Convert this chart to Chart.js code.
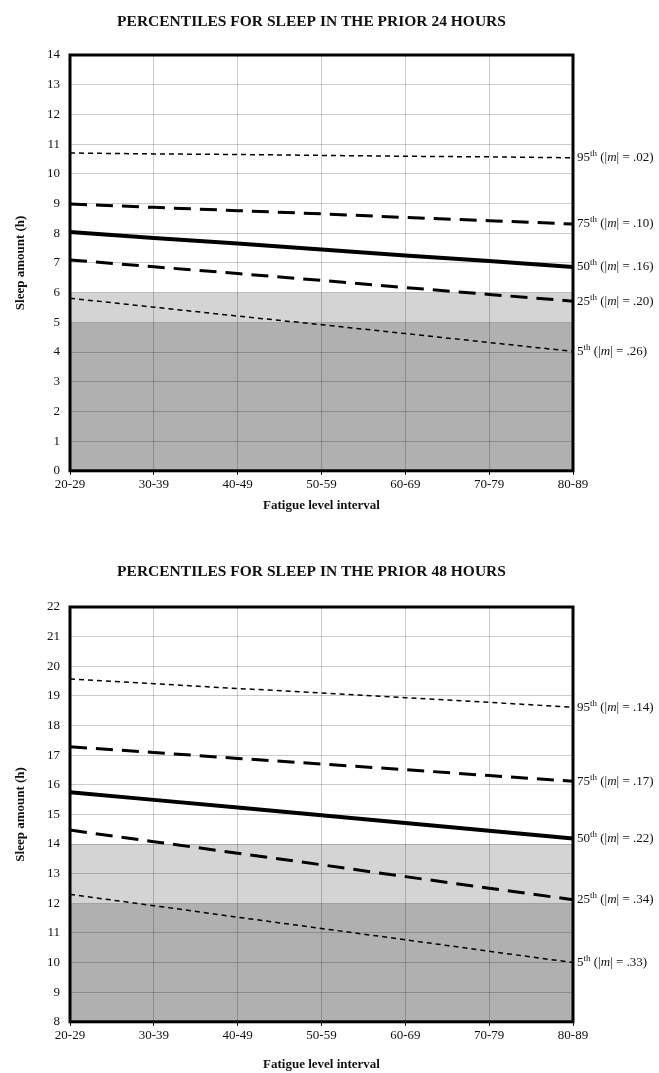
<!DOCTYPE html>
<html lang="en">
<head>
  <meta charset="UTF-8">
  <title>Percentiles for sleep</title>
  <script src="https://cdn.jsdelivr.net/npm/chart.js"></script>
  <style>
    body {
      margin: 0;
      padding: 0;
      background: #fff;
      font-family: 'Liberation Serif', 'Times New Roman', serif;
    }
    canvas { display: block; }
  </style>
</head>
<body>
  <canvas id="chart24" width="659" height="530"></canvas>
  <canvas id="chart48" width="659" height="543"></canvas>
  <script>
    const fatigueIntervals = ['20-29', '30-39', '40-49', '50-59', '60-69', '70-79', '80-89'];
    const percentileNames = ['95', '75', '50', '25', '5'];

    // prior 24 hours
    const p95_24 = [10.70, 10.67, 10.65, 10.62, 10.59, 10.57, 10.54];
    const p75_24 = [8.98, 8.87, 8.76, 8.65, 8.53, 8.42, 8.31];
    const p50_24 = [8.04, 7.84, 7.65, 7.45, 7.25, 7.06, 6.86];
    const p25_24 = [7.10, 6.87, 6.64, 6.41, 6.17, 5.94, 5.71];
    const p5_24 = [5.81, 5.51, 5.21, 4.92, 4.62, 4.32, 4.02];
    const slopes_24 = ['.02', '.10', '.16', '.20', '.26'];
    const bands_24 = [[0, 5], [5, 6]];

    // prior 48 hours
    const p95_48 = [19.57, 19.41, 19.25, 19.10, 18.94, 18.78, 18.62];
    const p75_48 = [17.28, 17.09, 16.89, 16.70, 16.51, 16.31, 16.12];
    const p50_48 = [15.75, 15.49, 15.23, 14.97, 14.71, 14.45, 14.19];
    const p25_48 = [14.47, 14.08, 13.69, 13.30, 12.90, 12.51, 12.12];
    const p5_48 = [12.30, 11.92, 11.53, 11.15, 10.77, 10.38, 10.00];
    const slopes_48 = ['.14', '.17', '.22', '.34', '.33'];
    const bands_48 = [[8, 12], [12, 14]];

    const SERIF = "'Liberation Serif', 'Times New Roman', serif";
    const bandColors = ['#b0b0b0', '#d4d4d4'];

    // styles for 95, 75, 50, 25, 5
    const lineStyles = [
      { borderWidth: 1.5, borderDash: [5, 4] },
      { borderWidth: 3, borderDash: [17, 9] },
      { borderWidth: 4, borderDash: [] },
      { borderWidth: 3, borderDash: [17, 9] },
      { borderWidth: 1.5, borderDash: [5, 4] }
    ];

    const bandsPlugin = {
      id: 'bands',
      beforeDraw(chart, args, opts) {
        const { ctx, chartArea, scales: { y } } = chart;
        ctx.save();
        opts.ranges.forEach((r, i) => {
          const top = y.getPixelForValue(r[1]);
          const bottom = y.getPixelForValue(r[0]);
          ctx.fillStyle = bandColors[i];
          ctx.fillRect(chartArea.left, top, chartArea.right - chartArea.left, bottom - top);
        });
        ctx.restore();
      }
    };

    const frameAndLabels = {
      id: 'frameAndLabels',
      afterDraw(chart, args, opts) {
        const { ctx, chartArea } = chart;
        ctx.save();
        ctx.strokeStyle = '#000';
        ctx.lineWidth = 3;
        ctx.strokeRect(chartArea.left, chartArea.top, chartArea.right - chartArea.left, chartArea.bottom - chartArea.top);

        // heading, a bit left of the plot centre like the original
        ctx.fillStyle = '#111';
        ctx.textAlign = 'center';
        ctx.textBaseline = 'middle';
        ctx.font = 'bold 15.5px ' + SERIF;
        ctx.fillText(opts.title, (chartArea.left + chartArea.right) / 2 - 10, opts.titleY);

        // percentile labels at the end of each line
        ctx.textAlign = 'left';
        chart.data.datasets.forEach((ds, i) => {
          const meta = chart.getDatasetMeta(i);
          const last = meta.data[meta.data.length - 1];
          let x = chartArea.right + 4;
          const yy = last.y;
          const parts = [
            [percentileNames[i], '13px ' + SERIF, 0],
            ['th', '9px ' + SERIF, -4],
            [' (|', '13px ' + SERIF, 0],
            ['m', 'italic 13px ' + SERIF, 0],
            ['| = ' + opts.slopes[i] + ')', '13px ' + SERIF, 0]
          ];
          parts.forEach(([t, f, dy]) => {
            ctx.font = f;
            ctx.fillText(t, x, yy + dy);
            x += ctx.measureText(t).width;
          });
        });
        ctx.restore();
      }
    };

    function makeChart(id, title, series, slopes, bands, yMin, yMax, pad) {
      const datasets = series.map((data, i) => ({
        label: percentileNames[i] + 'th',
        data,
        borderColor: '#000',
        borderWidth: lineStyles[i].borderWidth,
        borderDash: lineStyles[i].borderDash,
        pointRadius: 0,
        tension: 0,
        fill: false
      }));

      return new Chart(document.getElementById(id), {
        type: 'line',
        data: { labels: fatigueIntervals, datasets },
        plugins: [bandsPlugin, frameAndLabels],
        options: {
          responsive: false,
          animation: false,
          layout: { padding: { left: 0, right: 86, top: pad.top, bottom: pad.bottom } },
          plugins: {
            legend: { display: false },
            tooltip: { enabled: false },
            title: { display: false },
            bands: { ranges: bands },
            frameAndLabels: { slopes, title, titleY: pad.titleY }
          },
          scales: {
            x: {
              offset: false,
              grid: {
                color: 'rgba(0,0,0,0.2)',
                tickColor: '#000',
                tickLength: 4,
                offset: false
              },
              border: { display: false },
              ticks: {
                color: '#111',
                font: { family: SERIF, size: 13 },
                padding: 2,
                maxRotation: 0,
                autoSkip: false
              },
              title: {
                display: true,
                text: 'Fatigue level interval',
                color: '#111',
                font: { family: SERIF, size: 13, weight: 'bold' },
                padding: { top: pad.xTitle, bottom: 0 }
              }
            },
            y: {
              min: yMin,
              max: yMax,
              afterFit(scale) { scale.width = 70; },
              grid: {
                color: 'rgba(0,0,0,0.2)',
                drawTicks: false
              },
              border: { display: false },
              ticks: {
                stepSize: 0.5,
                color: '#111',
                font: { family: SERIF, size: 13 },
                padding: 10,
                callback: v => (Number.isInteger(v) ? v : '')
              },
              title: {
                display: true,
                text: 'Sleep amount (h)',
                color: '#111',
                font: { family: SERIF, size: 13, weight: 'bold' },
                padding: { top: 13, bottom: 4 }
              }
            }
          }
        }
      });
    }

    makeChart('chart24', 'PERCENTILES FOR SLEEP IN THE PRIOR 24 HOURS',
      [p95_24, p75_24, p50_24, p25_24, p5_24], slopes_24, bands_24, 0, 14,
      { top: 55, titleY: 22, xTitle: 3, bottom: 17 });

    makeChart('chart48', 'PERCENTILES FOR SLEEP IN THE PRIOR 48 HOURS',
      [p95_48, p75_48, p50_48, p25_48, p5_48], slopes_48, bands_48, 8, 22,
      { top: 77, titleY: 42, xTitle: 11, bottom: 1 });
  </script>
</body>
</html>
